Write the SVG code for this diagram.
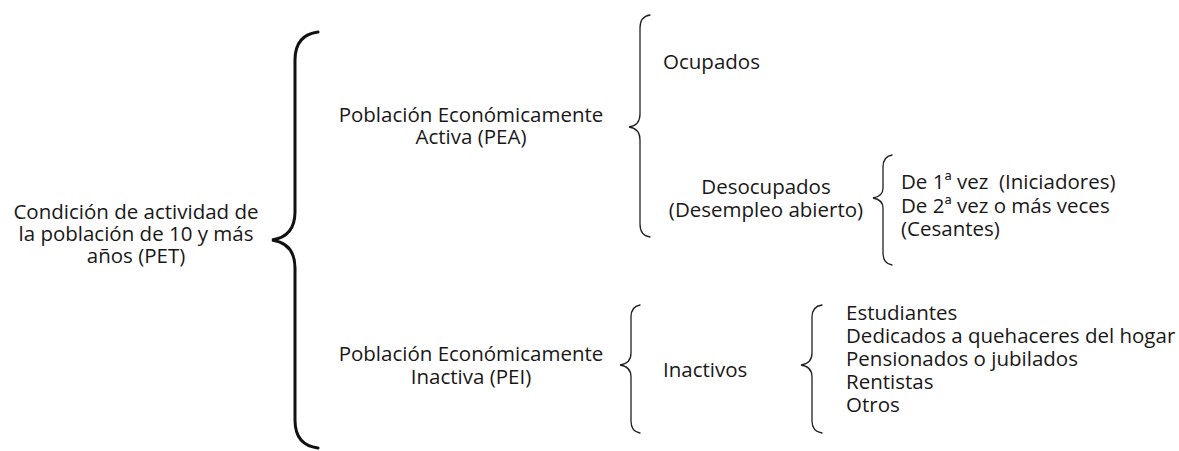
<svg xmlns="http://www.w3.org/2000/svg" width="1179" height="451" viewBox="0 0 1179 451">
<style>
text{font-family:"Open Sans","Noto Sans","Liberation Sans",sans-serif;font-size:20.5px;fill:#1a1718}
.c{text-anchor:middle}
.b{fill:none;stroke:#231f20;stroke-width:1.3;stroke-linecap:round}
.bb{fill:none;stroke:#111;stroke-width:3;stroke-linecap:round}
</style>
<rect width="1179" height="451" fill="#fff"/>
<g id="connectors">
<path class="bb" d="M318,32 C302,34 295,44 295,60 L295,212 C295,230 285,238 272,240 C285,242 295,250 295,268 L295,420 C295,436 302,446 318,448"/>
<path class="b" d="M650,15 C643,16 640,20 640,28 L640,114 C640,122 636,126 629,127 C636,128 640,132 640,140 L640,224 C640,232 643,236 650,237"/>
<path class="b" d="M892,155 C886,156 883,160 883,167 L883,188 C883,194 879,197 873,198 C879,199 883,202 883,208 L883,253 C883,260 886,264 892,265"/>
<path class="b" d="M640,305 C634,306 631,310 631,317 L631,353 C631,360 627,364 620,365 C627,366 631,370 631,377 L631,421 C631,428 634,432 640,433"/>
<path class="b" d="M822,305 C815,306 812,310 812,317 L812,353 C812,360 808,364 801,365 C808,366 812,370 812,377 L812,421 C812,428 815,432 822,433"/>
</g>
<g id="pet">
<text class="c" x="136" y="219">Condición de actividad de</text>
<text class="c" x="136" y="241">la población de 10 y más</text>
<text class="c" x="136" y="263">años (PET)</text>
</g>
<g id="pea">
<text class="c" x="471" y="122">Población Económicamente</text>
<text class="c" x="471" y="144">Activa (PEA)</text>
</g>
<g id="ocupados"><text x="663" y="69">Ocupados</text></g>
<g id="desocupados">
<text class="c" x="766" y="194">Desocupados</text>
<text class="c" x="766" y="217">(Desempleo abierto)</text>
</g>
<g id="desocupados-tipos">
<text x="901" y="189" xml:space="preserve">De 1ª vez  (Iniciadores)</text>
<text x="901" y="213">De 2ª vez o más veces</text>
<text x="901" y="236">(Cesantes)</text>
</g>
<g id="pei">
<text class="c" x="471" y="361">Población Económicamente</text>
<text class="c" x="471" y="384">Inactiva (PEI)</text>
</g>
<g id="inactivos"><text x="663" y="377">Inactivos</text></g>
<g id="inactivos-tipos">
<text x="846" y="320">Estudiantes</text>
<text x="846" y="343">Dedicados a quehaceres del hogar</text>
<text x="846" y="366">Pensionados o jubilados</text>
<text x="846" y="389">Rentistas</text>
<text x="846" y="412">Otros</text>
</g>
</svg>
